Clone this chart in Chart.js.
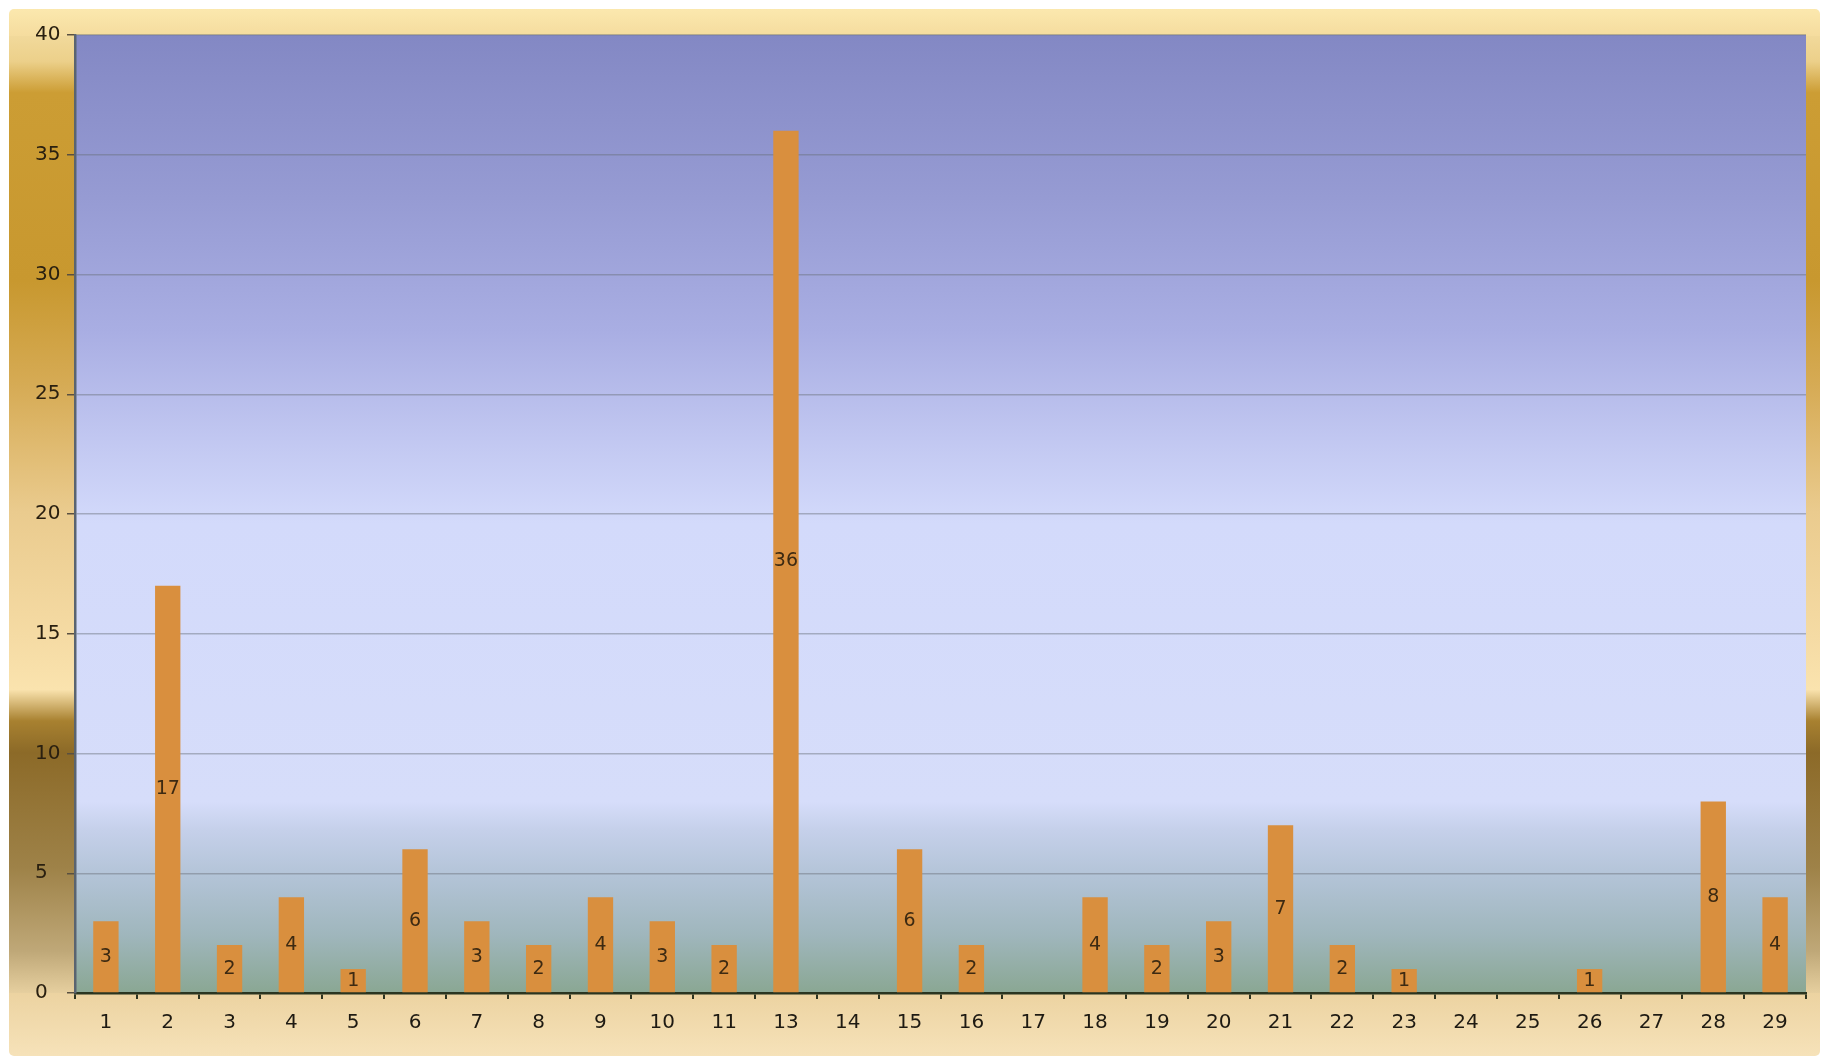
<!DOCTYPE html>
<html>
<head>
<meta charset="utf-8">
<script src="https://cdn.jsdelivr.net/npm/chart.js@4.4.0/dist/chart.umd.min.js"></script>
<style>
  html, body { margin: 0; padding: 0; background: #fff; }
  #frame {
    position: absolute; left: 9px; top: 9px; width: 1811px; height: 1047px;
    border-radius: 5px;
    background:
      linear-gradient(to bottom, #fbe8ae, #f5dc9e) top left / 100% 27px no-repeat,
      linear-gradient(to bottom, #ecd3a1, #f6e2b9) bottom left / 100% 63px no-repeat,
      linear-gradient(to bottom, #f7e3ad 0%, #ecd08a 5%, #cc9d34 8%, #c8982f 26%, #d6ab55 36%,
        #eacb8e 48%, #f5dba4 60%, #fae3ae 65%, #a88130 68%, #8c6a28 71%, #9e8248 82%,
        #bfa878 90%, #e6cf9f 94%, #f3ddb2 100%);
  }
  #wrap { position: absolute; left: 0; top: 0; width: 1822px; height: 1059px; }
</style>
</head>
<body>
<div id="frame"></div>
<div id="wrap"><canvas id="barChart" width="1822" height="1059"></canvas></div>
<script>
  // Categories (there is no 12 in the source).
  const categories = ['1', '2', '3', '4', '5', '6', '7', '8', '9', '10', '11', '13', '14', '15',
    '16', '17', '18', '19', '20', '21', '22', '23', '24', '25', '26', '27', '28', '29'];
  const counts = [3, 17, 2, 4, 1, 6, 3, 2, 4, 3, 2, 36, 0, 6, 2, 0, 4, 2, 3, 7, 2, 1, 0, 0, 1, 0, 8, 4];
  const yTicks = [0, 5, 10, 15, 20, 25, 30, 35, 40];

  const labelFont = { family: 'DejaVu Sans', size: 20 };

  // Fill the plot area with the blue to green backdrop.
  const plotBackground = {
    id: 'plotBackground',
    beforeDraw(chart) {
      const { ctx, chartArea: a } = chart;
      const g = ctx.createLinearGradient(0, a.top, 0, a.bottom);
      g.addColorStop(0, '#8388c4');
      g.addColorStop(0.17, '#969bd3');
      g.addColorStop(0.31, '#a9aee3');
      g.addColorStop(0.43, '#c3c9f2');
      g.addColorStop(0.51, '#d3dafb');
      g.addColorStop(0.80, '#d6ddfa');
      g.addColorStop(0.83, '#c5d0ea');
      g.addColorStop(0.88, '#b2c3d6');
      g.addColorStop(0.94, '#9fb6bc');
      g.addColorStop(1, '#8aa793');
      ctx.save();
      ctx.fillStyle = g;
      ctx.fillRect(a.left, a.top, a.right - a.left, a.bottom - a.top);
      ctx.restore();
    }
  };

  // Value in the middle of each bar.
  const barValues = {
    id: 'barValues',
    afterDatasetsDraw(chart) {
      const { ctx } = chart;
      const meta = chart.getDatasetMeta(0);
      ctx.save();
      ctx.font = '19px "DejaVu Sans"';
      ctx.fillStyle = '#3d2a12';
      ctx.textAlign = 'center';
      ctx.textBaseline = 'middle';
      meta.data.forEach(function (bar, i) {
        if (counts[i] > 0) {
          ctx.fillText(String(counts[i]), bar.x, (bar.y + bar.base) / 2);
        }
      });
      ctx.restore();
    }
  };

  new Chart('barChart', {
    type: 'bar',
    data: {
      labels: categories,
      datasets: [{
        data: counts,
        backgroundColor: '#d98f3e',
        borderWidth: 0,
        categoryPercentage: 1,
        barPercentage: 0.41
      }]
    },
    options: {
      responsive: false,
      animation: false,
      layout: { padding: { left: 35, top: 35, right: 16, bottom: 0 } },
      plugins: { legend: { display: false }, tooltip: { enabled: false } },
      scales: {
        x: {
          grid: { drawOnChartArea: false, drawTicks: true, tickLength: 6, tickColor: '#2e3420', lineWidth: 2 },
          border: { color: '#2a3520', width: 2.5 },
          ticks: { color: '#1e1a12', font: labelFont, padding: 12, maxRotation: 0, autoSkip: false },
          afterFit(scale) { scale.height = 66; }
        },
        y: {
          min: 0,
          max: 40,
          afterBuildTicks(scale) { scale.ticks = yTicks.map(v => ({ value: v })); },
          grid: { color: 'rgba(105,110,120,0.45)', lineWidth: 1.5, tickLength: 8, tickColor: '#5a5040' },
          border: { color: '#5a6470', width: 2.5 },
          ticks: { color: '#2a2010', font: labelFont, crossAlign: 'far', padding: 4 },
          afterFit(scale) { scale.width = 40; }
        }
      }
    },
    plugins: [plotBackground, barValues]
  });
</script>
</body>
</html>
